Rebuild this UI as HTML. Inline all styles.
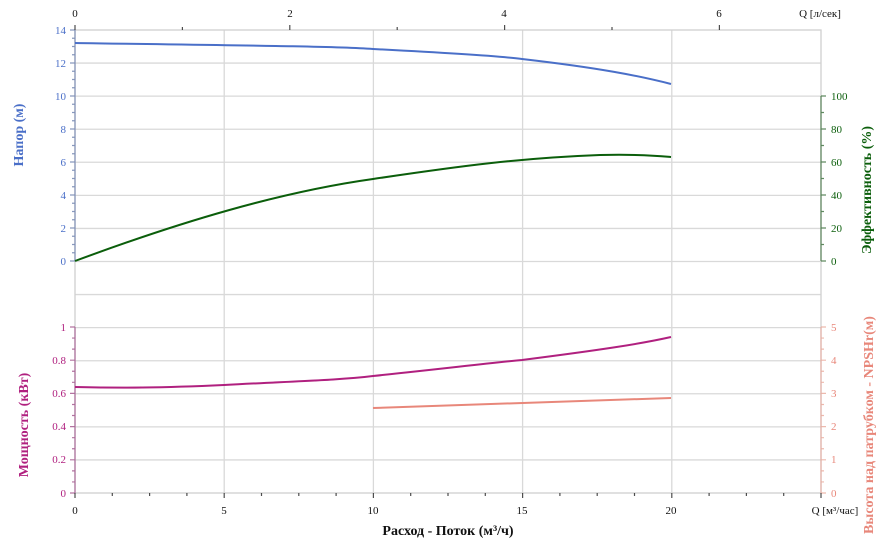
<!DOCTYPE html>
<html><head><meta charset="utf-8"><style>
html,body{margin:0;padding:0;background:#fff}
svg{display:block;font-family:"Liberation Serif",serif}
</style></head><body>
<svg id="s" width="896" height="544" viewBox="0 0 896 544" xmlns="http://www.w3.org/2000/svg">
<g id="grid" stroke="#d9d9d9" stroke-width="1.3" fill="none"></g>
<rect x="75" y="30" width="746" height="463" fill="none" stroke="#d0d0d0" stroke-width="1.3"/>
<g id="ticks"></g>
<path d="M75 43 C 200 45, 330 46, 373 49 C 450 53, 500 56, 522 59 C 600 68, 640 76, 671 84" fill="none" stroke="#4a6fc8" stroke-width="2"/>
<path d="M75 261 C 180 222, 280 192, 373 179 C 460 166, 520 158, 600 155 C 640 154, 660 156, 671 157" fill="none" stroke="#0b5e0b" stroke-width="2"/>
<path d="M75 387 C 120 388, 160 388, 224 385 C 300 381, 340 380, 373 376 C 450 368, 480 364, 522 360 C 600 350, 640 344, 671 337" fill="none" stroke="#b0207f" stroke-width="2"/>
<path d="M373 408 L671 398" fill="none" stroke="#e8877a" stroke-width="2"/>
<g fill="#4a6fc8" font-size="11" text-anchor="end">
<text x="66" y="34">14</text><text x="66" y="67">12</text><text x="66" y="100">10</text><text x="66" y="133">8</text><text x="66" y="166">6</text><text x="66" y="199">4</text><text x="66" y="232">2</text><text x="66" y="265">0</text>
</g>
<g fill="#b0207f" font-size="11" text-anchor="end">
<text x="66" y="331">1</text><text x="66" y="364">0.8</text><text x="66" y="397">0.6</text><text x="66" y="430">0.4</text><text x="66" y="463">0.2</text><text x="66" y="497">0</text>
</g>
<g fill="#0b5e0b" font-size="11">
<text x="831" y="100">100</text><text x="831" y="133">80</text><text x="831" y="166">60</text><text x="831" y="199">40</text><text x="831" y="232">20</text><text x="831" y="265">0</text>
</g>
<g fill="#e8877a" font-size="11">
<text x="831" y="331">5</text><text x="831" y="364">4</text><text x="831" y="397">3</text><text x="831" y="430">2</text><text x="831" y="463">1</text><text x="831" y="497">0</text>
</g>
<g fill="#111" font-size="11" text-anchor="middle">
<text x="75" y="514">0</text><text x="224" y="514">5</text><text x="373" y="514">10</text><text x="522" y="514">15</text><text x="671" y="514">20</text>
<text x="75" y="17">0</text><text x="290" y="17">2</text><text x="504" y="17">4</text><text x="719" y="17">6</text>
<text x="820" y="17">Q [л/сек]</text>
<text x="835" y="514">Q [м³/час]</text>
</g>
<text x="448" y="535" font-size="14" font-weight="bold" text-anchor="middle" fill="#111">Расход - Поток (м³/ч)</text>
<text transform="translate(23,135) rotate(-90)" font-size="14" font-weight="bold" text-anchor="middle" fill="#4a6fc8">Напор (м)</text>
<text transform="translate(28,425) rotate(-90)" font-size="14" font-weight="bold" text-anchor="middle" fill="#b0207f">Мощность (кВт)</text>
<text transform="translate(871,190) rotate(-90)" font-size="14" font-weight="bold" text-anchor="middle" fill="#0b5e0b">Эффективность (%)</text>
<text transform="translate(873,425) rotate(-90)" font-size="14" font-weight="bold" text-anchor="middle" fill="#e8877a">Высота над патрубком - NPSHr(м)</text>
</svg>
<script>
var g=document.getElementById('grid'),t=document.getElementById('ticks'),d='';
for(var k=1;k<14;k++){var y=30+k*463/14;d+='M75 '+y+'H821';}
for(var k=1;k<5;k++){var x=75+k*149.2;d+='M'+x+' 30V493';}
g.innerHTML='<path d="'+d+'"/>';
function P(d,c){return '<path d="'+d+'" stroke="'+c+'" stroke-width="1.2" fill="none" opacity="0.8"/>';}
var s='';
d='M75 30V261';for(var i=0;i<=28;i++){var y=30+i*8.25;d+=(i%4==0?'M70 ':'M72 ')+y+'h3'+(i%4==0?'h2':'');}s+=P(d,'#6b7fae');
d='M75 327V493';for(var i=0;i<=15;i++){var y=327+i*166/15;d+=(i%3==0?'M70 ':'M72 ')+y+'h'+(i%3==0?5:3);}s+=P(d,'#a0508a');
d='M821 96V261';for(var i=0;i<=10;i++){var y=96+i*16.5;d+='M821 '+y+'h'+(i%2==0?5:3);}s+=P(d,'#3a6e3a');
d='M821 327V493';for(var i=0;i<=15;i++){var y=327+i*166/15;d+='M821 '+y+'h'+(i%3==0?5:3);}s+=P(d,'#e8a79a');
d='';for(var i=0;i<=20;i++){var x=75+i*149.2/4;d+='M'+x+' 493v'+(i%4==0?5:3);}s+=P(d,'#222');
d='';for(var i=0;i<=7;i++){var x=75+i*107.4;if(x>822)break;d+='M'+x+' 30v-'+(i%2==0?5:3);}s+=P(d,'#222');
t.innerHTML=s;
</script>
</body></html>
